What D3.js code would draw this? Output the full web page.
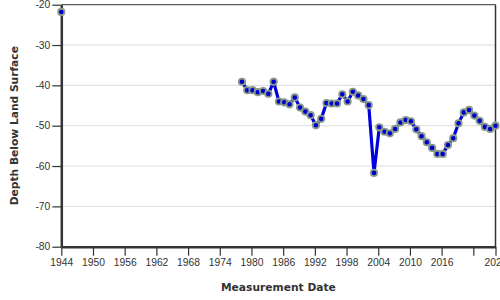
<!DOCTYPE html>
<html>
<head>
<meta charset="utf-8">
<script src="https://cdn.jsdelivr.net/npm/d3@7"></script>
<style>
body { margin: 0; background: #fff; }
svg { display: block; font-family: "DejaVu Sans Condensed", "DejaVu Sans", sans-serif; }
.axis text { font-size: 10.3px; fill: #333; }
.axis path, .axis line { stroke: #333; }
.title { font-family: "DejaVu Sans", sans-serif; font-weight: bold; font-size: 10.7px; fill: #333; }
</style>
</head>
<body>
<script>
// measurement dates (decimal years) and depth below land surface (ft)
var years = [1944.0,
    1978.2, 1979.2, 1980.2, 1981.2, 1982.2, 1983.2, 1984.2, 1985.2, 1986.2, 1987.2,
    1988.2, 1989.2, 1990.2, 1991.2, 1992.2, 1993.2, 1994.2, 1995.2, 1996.2, 1997.2,
    1998.2, 1999.2, 2000.2, 2001.2, 2002.2, 2003.2, 2004.2, 2005.2, 2006.2, 2007.2,
    2008.2, 2009.2, 2010.2, 2011.2, 2012.2, 2013.2, 2014.2, 2015.2, 2016.2, 2017.2,
    2018.2, 2019.2, 2020.2, 2021.2, 2022.2, 2023.2, 2024.2, 2025.2, 2026.2];
var depths = [-21.8,
    -39.1, -41.2, -41.2, -41.7, -41.4, -42.1, -39.1, -44.0, -44.2, -44.7,
    -43.0, -45.5, -46.5, -47.4, -49.9, -48.3, -44.4, -44.5, -44.5, -42.2,
    -44.0, -41.6, -42.5, -43.4, -44.9, -61.7, -50.4, -51.5, -51.9, -50.8,
    -49.2, -48.6, -48.9, -50.9, -52.6, -54.1, -55.5, -57.0, -57.0, -54.8,
    -53.1, -49.4, -46.7, -46.1, -47.5, -48.8, -50.3, -50.8, -50.0];
var yTicks = [-20, -30, -40, -50, -60, -70, -80];
var xTicks = [1944, 1950, 1956, 1962, 1968, 1974, 1980, 1986, 1992, 1998, 2004, 2010, 2016, 2022, 2026.2];
var xLabels = ["1944", "1950", "1956", "1962", "1968", "1974", "1980", "1986", "1992", "1998", "2004", "2010", "2016", "", "2026"];

var margin = {top: 4.7, right: 4.5, bottom: 53.3, left: 61.3},
    W = 500, H = 300,
    width = W - margin.left - margin.right,
    height = H - margin.top - margin.bottom;

var data = years.map(function(d, i) { return {t: d, v: depths[i]}; });

var svg = d3.select("body").append("svg")
    .attr("width", W).attr("height", H);
var g = svg.append("g")
    .attr("transform", "translate(" + margin.left + "," + margin.top + ")");

var x = d3.scaleLinear().domain([1944, 2026.2]).range([0, width]);
var y = d3.scaleLinear().domain([-80, -20]).range([height, 0]);

// grid
g.selectAll(".grid").data(yTicks.slice(1, -1)).enter().append("line")
    .attr("x1", 0).attr("x2", width)
    .attr("y1", function(d) { return y(d); }).attr("y2", function(d) { return y(d); })
    .attr("stroke", "#ddd");

// frame top/right
g.append("line").attr("x1", 0).attr("x2", width).attr("y1", 0).attr("y2", 0)
    .attr("stroke", "#333").attr("stroke-width", 1);
g.append("line").attr("x1", width).attr("x2", width).attr("y1", 0).attr("y2", height)
    .attr("stroke", "#333").attr("stroke-width", 1.5);

var xAxis = d3.axisBottom(x).tickValues(xTicks)
    .tickFormat(function(d, i) { return xLabels[i]; })
    .tickSize(9).tickSizeOuter(0).tickPadding(3);
var yAxis = d3.axisLeft(y).tickValues(yTicks)
    .tickFormat(d3.format("d")).tickSize(9).tickSizeOuter(0).tickPadding(2);

var gx = g.append("g").attr("class", "x axis")
    .attr("transform", "translate(0," + height + ")").call(xAxis);
var gy = g.append("g").attr("class", "y axis").call(yAxis);
gx.select(".domain").attr("stroke-width", 2.5);
gy.select(".domain").attr("stroke-width", 2.5);
gx.selectAll(".tick line").attr("stroke-width", 1.2);
gy.selectAll(".tick line").attr("stroke-width", 1.2);
gy.selectAll("text").text(function(d) { return String(d); });

var line = d3.line()
    .x(function(d) { return x(d.t); })
    .y(function(d) { return y(d.v); });

g.append("path").datum(data.slice(1))
    .attr("d", line)
    .attr("fill", "none")
    .attr("stroke", "#0000dd")
    .attr("stroke-width", 3.2);

g.selectAll(".pt").data(data).enter().append("circle")
    .attr("cx", function(d) { return x(d.t); })
    .attr("cy", function(d) { return y(d.v); })
    .attr("r", 3.2)
    .attr("fill", "#0000cc")
    .attr("stroke", "#8a9a8a")
    .attr("stroke-width", 1.8);

svg.append("text").attr("class", "title")
    .attr("x", margin.left + width / 2).attr("y", 291)
    .attr("text-anchor", "middle").text("Measurement Date");
svg.append("text").attr("class", "title")
    .attr("transform", "translate(18," + (margin.top + height / 2) + ") rotate(-90)")
    .attr("text-anchor", "middle").text("Depth Below Land Surface");
</script>
</body>
</html>
